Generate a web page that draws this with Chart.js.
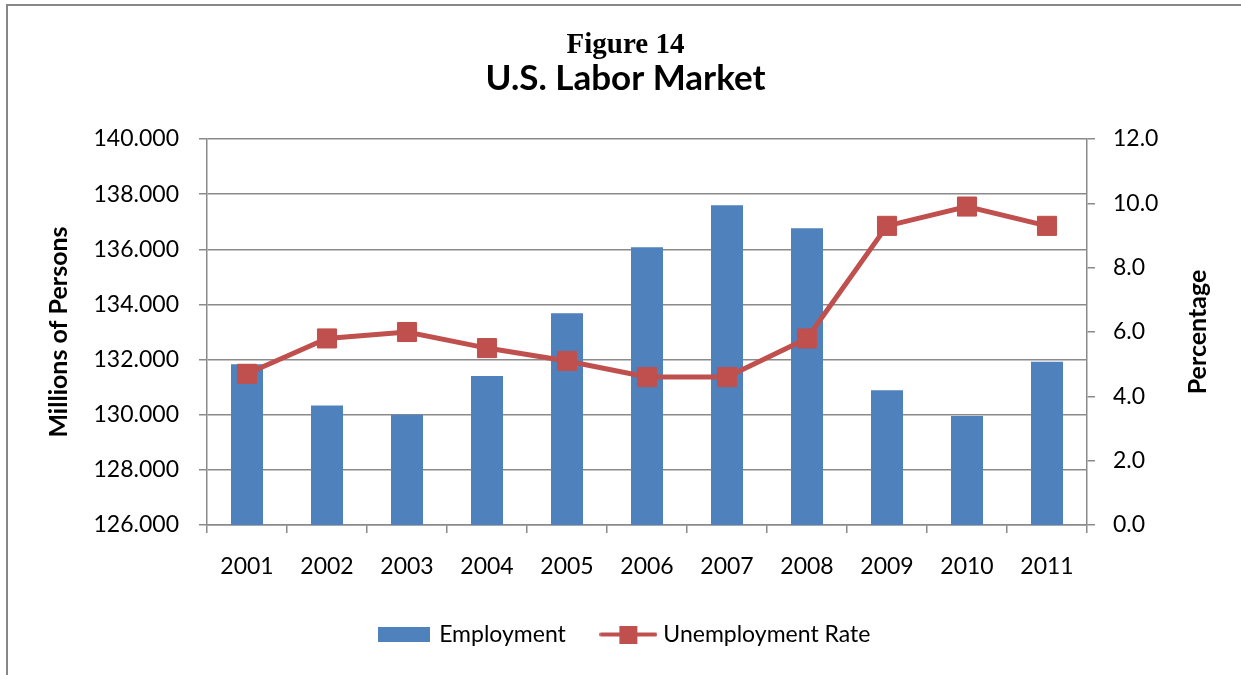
<!DOCTYPE html>
<html>
<head>
<meta charset="utf-8">
<script src="https://cdn.jsdelivr.net/npm/chart.js@4/dist/chart.umd.min.js"></script>
<style>
  html, body { margin: 0; padding: 0; background: #fff; }
  #wrap { position: relative; width: 1241px; height: 675px; overflow: hidden; }
  #frame { position: absolute; left: 6px; top: 4px; right: -10px; bottom: -10px;
           border-top: 2px solid #878787; border-left: 2px solid #878787; }
  #myChart { position: absolute; left: 0; top: 0; }
</style>
</head>
<body>
<div id="wrap">
  <div id="frame"></div>
  <canvas id="myChart" width="1241" height="675"></canvas>
</div>
<script>
// values
var years = ['2001','2002','2003','2004','2005','2006','2007','2008','2009','2010','2011'];
var employment = [131.83, 130.33, 130.00, 131.40, 133.68, 136.07, 137.60, 136.76, 130.89, 129.95, 131.92];
var unemploymentRate = [4.7, 5.8, 6.0, 5.5, 5.1, 4.6, 4.6, 5.8, 9.3, 9.9, 9.3];

var leftTicks = [126, 140, 2];   // min, max, step
var rightTicks = [0, 12, 2];

var blue = '#4F81BD';
var red = '#C0504D';
var gridGray = '#8a8a8a';
var sans = 'Lato';

// little pictures for the legend keys
function barKey() {
  var c = document.createElement('canvas');
  c.width = 52; c.height = 15;
  var x = c.getContext('2d');
  x.fillStyle = blue;
  x.fillRect(0, 0, 52, 15);
  return c;
}
function lineKey() {
  var c = document.createElement('canvas');
  c.width = 58; c.height = 18;
  var x = c.getContext('2d');
  x.strokeStyle = red;
  x.lineWidth = 4;
  x.lineCap = 'round';
  x.beginPath(); x.moveTo(2, 9); x.lineTo(56, 9); x.stroke();
  x.fillStyle = red;
  x.fillRect(20, 0, 18, 18);
  return c;
}
var keys = [barKey(), lineKey()];

// right axis title reads bottom-to-top in the original, chart.js turns it the other way
var rightTitle = {
  id: 'rightTitle',
  afterDraw: function(chart) {
    var a = chart.chartArea;
    var c = chart.ctx;
    c.save();
    c.translate(1198, (a.top + a.bottom) / 2);
    c.rotate(-Math.PI / 2);
    c.font = 'bold 25px ' + sans;
    c.fillStyle = '#000';
    c.textAlign = 'center';
    c.textBaseline = 'middle';
    c.fillText('Percentage', 0, 0);
    c.restore();
  }
};

var ctx = document.getElementById('myChart').getContext('2d');
var chart = new Chart(ctx, {
  data: {
    labels: years,
    datasets: [{
      type: 'bar',
      label: 'Employment',
      data: employment,
      backgroundColor: blue,
      borderWidth: 0,
      barPercentage: 0.8,
      categoryPercentage: 0.5,
      yAxisID: 'y',
      order: 2
    }, {
      type: 'line',
      label: 'Unemployment Rate',
      data: unemploymentRate,
      borderColor: red,
      borderWidth: 5,
      backgroundColor: red,
      pointStyle: 'rect',
      pointRadius: 13.5,
      pointBorderWidth: 1,
      pointBackgroundColor: red,
      pointBorderColor: red,
      tension: 0,
      yAxisID: 'y1',
      order: 1
    }]
  },
  plugins: [rightTitle],
  options: {
    responsive: false,
    animation: false,
    events: [],
    layout: { padding: { left: 10, right: 0, top: 0, bottom: 19 } },
    plugins: {
      tooltip: { enabled: false },
      title: {
        display: true,
        text: 'Figure 14',
        color: '#000',
        font: { family: 'Liberation Serif', size: 29, weight: 'bold', lineHeight: 1 },
        padding: { top: 31, bottom: 0 }
      },
      subtitle: {
        display: true,
        text: 'U.S. Labor Market',
        color: '#000',
        font: { family: sans, size: 35, weight: 'bold', lineHeight: 1 },
        padding: { top: 1, bottom: 43 }
      },
      legend: {
        position: 'bottom',
        labels: {
          color: '#000',
          font: { family: sans, size: 23 },
          usePointStyle: true,
          pointStyleWidth: 47,
          padding: 39,
          generateLabels: function(chart) {
            return chart.data.datasets.map(function(ds, i) {
              return { text: ds.label, pointStyle: keys[i], fillStyle: 'rgba(0,0,0,0)',
                       strokeStyle: 'rgba(0,0,0,0)', lineWidth: 0, fontColor: '#000', datasetIndex: i };
            });
          }
        }
      }
    },
    scales: {
      x: {
        afterFit: function(s) { s.height = 59; },
        grid: { drawOnChartArea: false, offset: true, tickLength: 8, color: gridGray, lineWidth: 1.5 },
        border: { display: true, color: gridGray, width: 1.5 },
        ticks: { color: '#000', font: { family: sans, size: 23 }, padding: 20, maxRotation: 0 }
      },
      y: {
        position: 'left',
        min: leftTicks[0], max: leftTicks[1],
        afterFit: function(s) { s.width = 197; },
        grid: { color: gridGray, lineWidth: 1.5, tickLength: 8 },
        border: { display: true, color: gridGray, width: 1.5 },
        ticks: {
          stepSize: leftTicks[2], color: '#000', padding: 20,
          font: { family: sans, size: 23 },
          callback: function(v) { return v.toFixed(3); }
        },
        title: {
          display: true, text: 'Millions of Persons', color: '#000',
          font: { family: sans, size: 25, weight: 'bold' },
          padding: { top: 34, bottom: 0 }
        }
      },
      y1: {
        position: 'right',
        min: rightTicks[0], max: rightTicks[1],
        afterFit: function(s) { s.width = 154; },
        grid: { drawOnChartArea: false, color: gridGray, lineWidth: 1.5, tickLength: 8 },
        border: { display: true, color: gridGray, width: 1.5 },
        ticks: {
          stepSize: rightTicks[2], color: '#000', padding: 18,
          font: { family: sans, size: 23 },
          callback: function(v) { return v.toFixed(1); }
        }
      }
    }
  }
});
</script>
</body>
</html>
